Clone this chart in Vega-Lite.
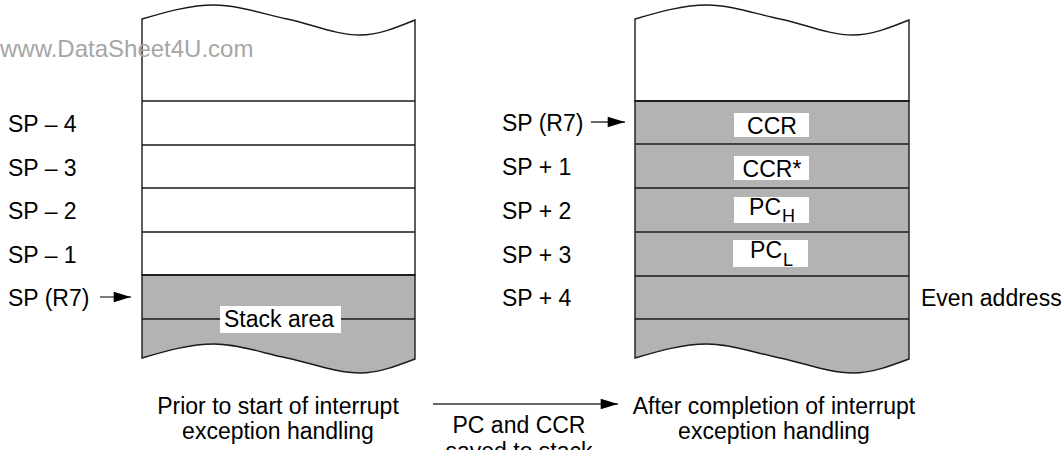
{
  "$schema": "https://vega.github.io/schema/vega-lite/v6.json",
  "width": 1063,
  "height": 450,
  "autosize": {"type": "fit", "contains": "padding"},
  "padding": 0,
  "background": "#ffffff",
  "config": {"view": {"stroke": null}, "text": {"font": "Liberation Sans"}},
  "datasets": {
    "body": [
      {"shape": "before-free", "part": "free", "x": 142, "y": 19, "y2": 275},
      {"shape": "before-free", "part": "free", "x": 214, "y": 5, "y2": 275},
      {"shape": "before-free", "part": "free", "x": 287, "y": 19, "y2": 275},
      {"shape": "before-free", "part": "free", "x": 360, "y": 35, "y2": 275},
      {"shape": "before-free", "part": "free", "x": 415, "y": 20, "y2": 275},
      {"shape": "before-used", "part": "used", "x": 142, "y": 275, "y2": 358},
      {"shape": "before-used", "part": "used", "x": 214, "y": 275, "y2": 344},
      {"shape": "before-used", "part": "used", "x": 287, "y": 275, "y2": 358},
      {"shape": "before-used", "part": "used", "x": 360, "y": 275, "y2": 373},
      {"shape": "before-used", "part": "used", "x": 415, "y": 275, "y2": 359},
      {"shape": "after-free", "part": "free", "x": 635, "y": 19, "y2": 101},
      {"shape": "after-free", "part": "free", "x": 707, "y": 5, "y2": 101},
      {"shape": "after-free", "part": "free", "x": 780, "y": 19, "y2": 101},
      {"shape": "after-free", "part": "free", "x": 853, "y": 35, "y2": 101},
      {"shape": "after-free", "part": "free", "x": 909, "y": 20, "y2": 101},
      {"shape": "after-used", "part": "used", "x": 635, "y": 101, "y2": 358},
      {"shape": "after-used", "part": "used", "x": 707, "y": 101, "y2": 344},
      {"shape": "after-used", "part": "used", "x": 780, "y": 101, "y2": 358},
      {"shape": "after-used", "part": "used", "x": 853, "y": 101, "y2": 373},
      {"shape": "after-used", "part": "used", "x": 909, "y": 101, "y2": 359}
    ],
    "dividers": [
      {"x": 142, "x2": 415, "y": 101},
      {"x": 142, "x2": 415, "y": 145},
      {"x": 142, "x2": 415, "y": 188},
      {"x": 142, "x2": 415, "y": 232},
      {"x": 142, "x2": 415, "y": 275},
      {"x": 142, "x2": 415, "y": 319},
      {"x": 635, "x2": 909, "y": 101},
      {"x": 635, "x2": 909, "y": 144},
      {"x": 635, "x2": 909, "y": 188},
      {"x": 635, "x2": 909, "y": 232},
      {"x": 635, "x2": 909, "y": 276},
      {"x": 635, "x2": 909, "y": 319}
    ],
    "boxes": [
      {"name": "Stack area", "x": 220, "x2": 341, "y": 306, "y2": 333},
      {"name": "CCR", "x": 734, "x2": 809, "y": 113, "y2": 137},
      {"name": "CCR*", "x": 734, "x2": 809, "y": 156, "y2": 180},
      {"name": "PCH", "x": 734, "x2": 809, "y": 197, "y2": 223},
      {"name": "PCL", "x": 733, "x2": 808, "y": 240, "y2": 267}
    ],
    "arrows": [
      {"x": 100, "x2": 131, "y": 297},
      {"x": 591, "x2": 625, "y": 122},
      {"x": 433, "x2": 618, "y": 404}
    ],
    "texts": [
      {"kind": "left", "label": "SP – 4", "x": 8, "y": 132},
      {"kind": "left", "label": "SP – 3", "x": 8, "y": 175.5},
      {"kind": "left", "label": "SP – 2", "x": 8, "y": 219},
      {"kind": "left", "label": "SP – 1", "x": 8, "y": 262.5},
      {"kind": "left", "label": "SP (R7)", "x": 8, "y": 306},
      {"kind": "left", "label": "SP (R7)", "x": 502, "y": 131},
      {"kind": "left", "label": "SP + 1", "x": 502, "y": 175},
      {"kind": "left", "label": "SP + 2", "x": 502, "y": 219},
      {"kind": "left", "label": "SP + 3", "x": 502, "y": 263},
      {"kind": "left", "label": "SP + 4", "x": 502, "y": 306},
      {"kind": "left", "label": "Even address", "x": 921, "y": 306},
      {"kind": "center", "label": "Stack area", "x": 279, "y": 327},
      {"kind": "center", "label": "Prior to start of interrupt", "x": 278, "y": 414},
      {"kind": "center", "label": "exception handling", "x": 278, "y": 439},
      {"kind": "center", "label": "After completion of interrupt", "x": 774, "y": 414},
      {"kind": "center", "label": "exception handling", "x": 774, "y": 439},
      {"kind": "center", "label": "PC and CCR", "x": 519, "y": 433},
      {"kind": "center", "label": "saved to stack", "x": 519, "y": 459},
      {"kind": "box", "label": "CCR", "x": 772, "y": 134},
      {"kind": "box", "label": "CCR*", "x": 772, "y": 177},
      {"kind": "boxright", "label": "PC", "x": 781, "y": 215},
      {"kind": "boxright", "label": "PC", "x": 782, "y": 258},
      {"kind": "sub", "label": "H", "x": 782, "y": 222},
      {"kind": "sub", "label": "L", "x": 783, "y": 266},
      {"kind": "mark", "label": "www.DataSheet4U.com", "x": 0, "y": 57}
    ]
  },
  "encoding": {
    "x": {"field": "x", "type": "quantitative", "axis": null, "scale": {"domain": [0, 1063], "nice": false, "zero": false}},
    "y": {"field": "y", "type": "quantitative", "axis": null, "scale": {"domain": [0, 450], "reverse": true, "nice": false, "zero": false}}
  },
  "layer": [
    {
      "data": {"name": "body"},
      "mark": {"type": "area", "interpolate": "monotone", "stroke": "#1a1a1a", "strokeWidth": 1.4, "fillOpacity": 1},
      "encoding": {
        "y": {"field": "y", "type": "quantitative", "stack": null},
        "y2": {"field": "y2"},
        "fill": {"field": "part", "type": "nominal", "scale": {"domain": ["free", "used"], "range": ["#ffffff", "#b3b3b3"]}, "legend": null},
        "detail": {"field": "shape"}
      }
    },
    {
      "data": {"name": "dividers"},
      "mark": {"type": "rule", "stroke": "#1a1a1a", "strokeWidth": 1.4},
      "encoding": {"x2": {"field": "x2"}}
    },
    {
      "data": {"name": "boxes"},
      "mark": {"type": "rect", "fill": "#ffffff", "stroke": null},
      "encoding": {"x2": {"field": "x2"}, "y2": {"field": "y2"}}
    },
    {
      "data": {"name": "arrows"},
      "mark": {"type": "rule", "stroke": "#333333", "strokeWidth": 1.3},
      "encoding": {"x2": {"field": "x2"}}
    },
    {
      "data": {"name": "arrows"},
      "mark": {"type": "point", "shape": "M0,0L-2,-0.6L-2,0.6Z", "filled": true, "color": "#000000", "opacity": 1, "size": 300, "strokeWidth": 0},
      "encoding": {"x": {"field": "x2", "type": "quantitative"}}
    },
    {
      "data": {"name": "texts"},
      "transform": [{"filter": "datum.kind === 'left'"}],
      "mark": {"type": "text", "align": "left", "baseline": "alphabetic", "fontSize": 23, "color": "#000000"},
      "encoding": {"text": {"field": "label"}}
    },
    {
      "data": {"name": "texts"},
      "transform": [{"filter": "datum.kind === 'center'"}],
      "mark": {"type": "text", "align": "center", "baseline": "alphabetic", "fontSize": 23, "color": "#000000", "clip": true},
      "encoding": {"text": {"field": "label"}}
    },
    {
      "data": {"name": "texts"},
      "transform": [{"filter": "datum.kind === 'box'"}],
      "mark": {"type": "text", "align": "center", "baseline": "alphabetic", "fontSize": 23, "color": "#000000"},
      "encoding": {"text": {"field": "label"}}
    },
    {
      "data": {"name": "texts"},
      "transform": [{"filter": "datum.kind === 'boxright'"}],
      "mark": {"type": "text", "align": "right", "baseline": "alphabetic", "fontSize": 23, "color": "#000000"},
      "encoding": {"text": {"field": "label"}}
    },
    {
      "data": {"name": "texts"},
      "transform": [{"filter": "datum.kind === 'sub'"}],
      "mark": {"type": "text", "align": "left", "baseline": "alphabetic", "fontSize": 18, "color": "#000000"},
      "encoding": {"text": {"field": "label"}}
    },
    {
      "data": {"name": "texts"},
      "transform": [{"filter": "datum.kind === 'mark'"}],
      "mark": {"type": "text", "align": "left", "baseline": "alphabetic", "fontSize": 24, "color": "#a6a6a6"},
      "encoding": {"text": {"field": "label"}}
    }
  ]
}
